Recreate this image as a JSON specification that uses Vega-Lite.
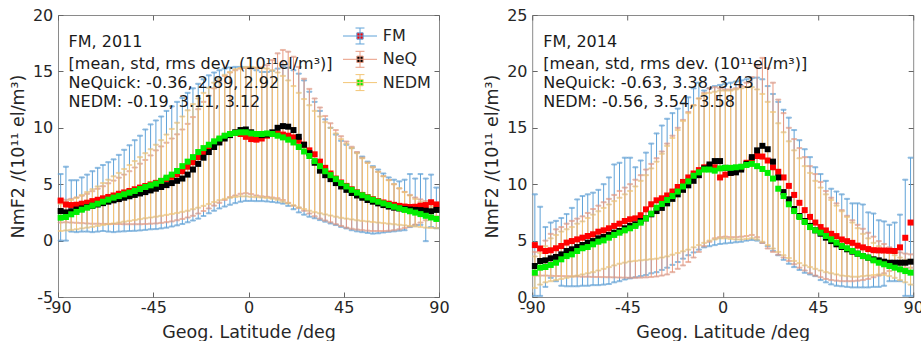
{
"$schema": "https://vega.github.io/schema/vega-lite/v6.json",
"background": "white",
"padding": {"left": 8, "top": 6, "right": 0, "bottom": 0},
"spacing": 32.2,
"config": {
  "font": "DejaVu Sans",
  "view": {"stroke": "#8a8a8a", "strokeWidth": 1},
  "axis": {"grid": false, "domain": false, "tickSize": -5, "tickColor": "#666666", "tickWidth": 1, "labelColor": "#262626", "labelFontSize": 16, "labelFont": "DejaVu Sans", "titleColor": "#262626", "titleFontSize": 17.5, "titleFontWeight": "normal", "titleFont": "DejaVu Sans", "labelFlush": false, "labelOverlap": false},
  "axisX": {"labelPadding": 7, "titlePadding": 8},
  "axisY": {"labelPadding": 10.2, "titlePadding": 5},
  "legend": {"symbolType": "M-2.43,0H2.43M0,-1.14V1.14M-0.64,-1.14H0.64M-0.64,1.14H0.64M-0.45,-0.45H0.45V0.45H-0.45Z", "symbolSize": 196, "symbolStrokeWidth": 1, "symbolOpacity": 1}
},
"resolve": {"scale": {"color": "independent", "stroke": "independent"}},
"datasets": {
"p1": [
{"lat":-88.75,"fm":3.55,"fmLo":0,"fmHi":5.9,"nq":2.62,"nqLo":1.6,"nqHi":3.65,"nd":2.03,"ndLo":0.85,"ndHi":3.25},
{"lat":-86.25,"fm":3.2,"fmLo":0,"fmHi":6.55,"nq":2.5,"nqLo":1.62,"nqHi":3.62,"nd":2.09,"ndLo":0.9,"ndHi":3.4},
{"lat":-83.75,"fm":3.15,"fmLo":0.8,"fmHi":5.35,"nq":2.6,"nqLo":1.6,"nqHi":3.7,"nd":2.33,"ndLo":0.95,"ndHi":3.6},
{"lat":-81.25,"fm":3.18,"fmLo":0.75,"fmHi":5.35,"nq":2.75,"nqLo":1.58,"nqHi":3.82,"nd":2.54,"ndLo":1.0,"ndHi":3.8},
{"lat":-78.75,"fm":3.27,"fmLo":0.8,"fmHi":5.6,"nq":2.85,"nqLo":1.55,"nqHi":3.98,"nd":2.74,"ndLo":1.08,"ndHi":4.05},
{"lat":-76.25,"fm":3.36,"fmLo":0.8,"fmHi":5.85,"nq":2.97,"nqLo":1.52,"nqHi":4.15,"nd":2.92,"ndLo":1.15,"ndHi":4.3},
{"lat":-73.75,"fm":3.5,"fmLo":0.75,"fmHi":6.15,"nq":3.08,"nqLo":1.5,"nqHi":4.38,"nd":3.1,"ndLo":1.22,"ndHi":4.55},
{"lat":-71.25,"fm":3.62,"fmLo":0.8,"fmHi":6.45,"nq":3.2,"nqLo":1.5,"nqHi":4.6,"nd":3.27,"ndLo":1.3,"ndHi":4.8},
{"lat":-68.75,"fm":3.75,"fmLo":0.85,"fmHi":6.7,"nq":3.32,"nqLo":1.48,"nqHi":4.82,"nd":3.45,"ndLo":1.38,"ndHi":5.1},
{"lat":-66.25,"fm":3.87,"fmLo":0.8,"fmHi":6.95,"nq":3.45,"nqLo":1.48,"nqHi":5.08,"nd":3.63,"ndLo":1.45,"ndHi":5.4},
{"lat":-63.75,"fm":4.0,"fmLo":0.75,"fmHi":7.2,"nq":3.57,"nqLo":1.47,"nqHi":5.32,"nd":3.81,"ndLo":1.52,"ndHi":5.7},
{"lat":-61.25,"fm":4.15,"fmLo":0.8,"fmHi":7.6,"nq":3.68,"nqLo":1.47,"nqHi":5.58,"nd":3.95,"ndLo":1.6,"ndHi":6.0},
{"lat":-58.75,"fm":4.27,"fmLo":0.82,"fmHi":8.05,"nq":3.8,"nqLo":1.45,"nqHi":5.85,"nd":4.1,"ndLo":1.68,"ndHi":6.35},
{"lat":-56.25,"fm":4.4,"fmLo":0.85,"fmHi":8.45,"nq":3.93,"nqLo":1.45,"nqHi":6.15,"nd":4.25,"ndLo":1.75,"ndHi":6.7},
{"lat":-53.75,"fm":4.55,"fmLo":0.87,"fmHi":8.9,"nq":4.05,"nqLo":1.45,"nqHi":6.48,"nd":4.4,"ndLo":1.82,"ndHi":7.05},
{"lat":-51.25,"fm":4.7,"fmLo":0.9,"fmHi":9.3,"nq":4.18,"nqLo":1.45,"nqHi":6.82,"nd":4.57,"ndLo":1.9,"ndHi":7.4},
{"lat":-48.75,"fm":4.84,"fmLo":0.95,"fmHi":9.85,"nq":4.3,"nqLo":1.47,"nqHi":7.15,"nd":4.75,"ndLo":1.98,"ndHi":7.75},
{"lat":-46.25,"fm":4.98,"fmLo":1.0,"fmHi":10.3,"nq":4.45,"nqLo":1.5,"nqHi":7.55,"nd":4.9,"ndLo":2.05,"ndHi":8.1},
{"lat":-43.75,"fm":5.12,"fmLo":1.02,"fmHi":10.65,"nq":4.6,"nqLo":1.52,"nqHi":8.0,"nd":5.05,"ndLo":2.12,"ndHi":8.5},
{"lat":-41.25,"fm":5.28,"fmLo":1.08,"fmHi":11.0,"nq":4.75,"nqLo":1.57,"nqHi":8.35,"nd":5.3,"ndLo":2.2,"ndHi":8.9},
{"lat":-38.75,"fm":5.45,"fmLo":1.15,"fmHi":11.5,"nq":4.92,"nqLo":1.63,"nqHi":8.68,"nd":5.58,"ndLo":2.28,"ndHi":9.4},
{"lat":-36.25,"fm":5.65,"fmLo":1.25,"fmHi":11.9,"nq":5.1,"nqLo":1.7,"nqHi":9.05,"nd":5.85,"ndLo":2.36,"ndHi":9.9},
{"lat":-33.75,"fm":5.88,"fmLo":1.35,"fmHi":12.3,"nq":5.3,"nqLo":1.8,"nqHi":9.42,"nd":6.17,"ndLo":2.45,"ndHi":10.45},
{"lat":-31.25,"fm":6.15,"fmLo":1.47,"fmHi":12.65,"nq":5.5,"nqLo":1.92,"nqHi":9.85,"nd":6.6,"ndLo":2.55,"ndHi":11.0},
{"lat":-28.75,"fm":6.55,"fmLo":1.62,"fmHi":13.1,"nq":5.85,"nqLo":2.05,"nqHi":10.35,"nd":7.0,"ndLo":2.65,"ndHi":11.55},
{"lat":-26.25,"fm":6.95,"fmLo":1.78,"fmHi":13.5,"nq":6.3,"nqLo":2.2,"nqHi":10.95,"nd":7.4,"ndLo":2.78,"ndHi":12.1},
{"lat":-23.75,"fm":7.4,"fmLo":1.95,"fmHi":13.9,"nq":6.8,"nqLo":2.4,"nqHi":11.65,"nd":7.85,"ndLo":2.92,"ndHi":12.6},
{"lat":-21.25,"fm":7.85,"fmLo":2.18,"fmHi":14.3,"nq":7.35,"nqLo":2.62,"nqHi":12.3,"nd":8.2,"ndLo":3.08,"ndHi":13.1},
{"lat":-18.75,"fm":8.25,"fmLo":2.42,"fmHi":14.65,"nq":7.85,"nqLo":2.85,"nqHi":12.85,"nd":8.5,"ndLo":3.25,"ndHi":13.55},
{"lat":-16.25,"fm":8.6,"fmLo":2.65,"fmHi":14.9,"nq":8.3,"nqLo":3.1,"nqHi":13.5,"nd":8.8,"ndLo":3.42,"ndHi":14.0},
{"lat":-13.75,"fm":8.95,"fmLo":2.85,"fmHi":15.1,"nq":8.7,"nqLo":3.35,"nqHi":14.15,"nd":9.05,"ndLo":3.58,"ndHi":14.35},
{"lat":-11.25,"fm":9.25,"fmLo":3.02,"fmHi":15.25,"nq":9.05,"nqLo":3.6,"nqHi":14.6,"nd":9.3,"ndLo":3.7,"ndHi":14.7},
{"lat":-8.75,"fm":9.45,"fmLo":3.18,"fmHi":15.35,"nq":9.35,"nqLo":3.85,"nqHi":14.9,"nd":9.45,"ndLo":3.8,"ndHi":14.95},
{"lat":-6.25,"fm":9.55,"fmLo":3.32,"fmHi":15.4,"nq":9.6,"nqLo":4.0,"nqHi":15.1,"nd":9.55,"ndLo":3.87,"ndHi":15.2},
{"lat":-3.75,"fm":9.45,"fmLo":3.45,"fmHi":15.4,"nq":9.8,"nqLo":4.15,"nqHi":15.25,"nd":9.6,"ndLo":3.92,"ndHi":15.3},
{"lat":-1.25,"fm":9.2,"fmLo":3.52,"fmHi":15.35,"nq":9.85,"nqLo":4.2,"nqHi":15.3,"nd":9.6,"ndLo":3.92,"ndHi":15.4},
{"lat":1.25,"fm":9.0,"fmLo":3.52,"fmHi":15.25,"nq":9.6,"nqLo":4.12,"nqHi":15.3,"nd":9.5,"ndLo":3.88,"ndHi":15.4},
{"lat":3.75,"fm":8.95,"fmLo":3.5,"fmHi":15.1,"nq":9.45,"nqLo":4.0,"nqHi":15.3,"nd":9.45,"ndLo":3.85,"ndHi":15.35},
{"lat":6.25,"fm":9.05,"fmLo":3.5,"fmHi":14.95,"nq":9.35,"nqLo":3.92,"nqHi":15.35,"nd":9.45,"ndLo":3.82,"ndHi":15.3},
{"lat":8.75,"fm":9.3,"fmLo":3.47,"fmHi":14.95,"nq":9.4,"nqLo":3.88,"nqHi":15.55,"nd":9.5,"ndLo":3.78,"ndHi":15.25},
{"lat":11.25,"fm":9.45,"fmLo":3.42,"fmHi":15.05,"nq":9.6,"nqLo":3.82,"nqHi":16.0,"nd":9.45,"ndLo":3.72,"ndHi":15.1},
{"lat":13.75,"fm":9.5,"fmLo":3.37,"fmHi":15.25,"nq":10.0,"nqLo":3.75,"nqHi":16.6,"nd":9.3,"ndLo":3.62,"ndHi":14.9},
{"lat":16.25,"fm":9.4,"fmLo":3.28,"fmHi":15.45,"nq":10.15,"nqLo":3.6,"nqHi":16.9,"nd":9.15,"ndLo":3.45,"ndHi":14.6},
{"lat":18.75,"fm":9.3,"fmLo":3.08,"fmHi":15.35,"nq":10.1,"nqLo":3.35,"nqHi":16.75,"nd":8.95,"ndLo":3.3,"ndHi":14.2},
{"lat":21.25,"fm":9.15,"fmLo":2.78,"fmHi":15.1,"nq":9.8,"nqLo":3.1,"nqHi":16.3,"nd":8.7,"ndLo":3.12,"ndHi":13.7},
{"lat":23.75,"fm":8.85,"fmLo":2.5,"fmHi":14.8,"nq":9.2,"nqLo":2.9,"nqHi":15.4,"nd":8.3,"ndLo":2.95,"ndHi":13.1},
{"lat":26.25,"fm":8.5,"fmLo":2.3,"fmHi":14.2,"nq":8.5,"nqLo":2.65,"nqHi":14.35,"nd":7.9,"ndLo":2.8,"ndHi":12.55},
{"lat":28.75,"fm":8.0,"fmLo":2.12,"fmHi":13.2,"nq":7.75,"nqLo":2.4,"nqHi":13.45,"nd":7.5,"ndLo":2.65,"ndHi":12.0},
{"lat":31.25,"fm":7.65,"fmLo":1.98,"fmHi":12.3,"nq":6.9,"nqLo":2.15,"nqHi":12.6,"nd":7.05,"ndLo":2.52,"ndHi":11.5},
{"lat":33.75,"fm":7.0,"fmLo":1.82,"fmHi":11.5,"nq":6.2,"nqLo":1.95,"nqHi":11.8,"nd":6.6,"ndLo":2.42,"ndHi":11.0},
{"lat":36.25,"fm":6.45,"fmLo":1.68,"fmHi":10.75,"nq":5.8,"nqLo":1.78,"nqHi":11.05,"nd":6.15,"ndLo":2.32,"ndHi":10.5},
{"lat":38.75,"fm":5.95,"fmLo":1.52,"fmHi":10.0,"nq":5.45,"nqLo":1.62,"nqHi":10.4,"nd":5.8,"ndLo":2.22,"ndHi":10.0},
{"lat":41.25,"fm":5.5,"fmLo":1.38,"fmHi":9.4,"nq":5.1,"nqLo":1.45,"nqHi":9.8,"nd":5.45,"ndLo":2.12,"ndHi":9.5},
{"lat":43.75,"fm":5.15,"fmLo":1.22,"fmHi":8.85,"nq":4.8,"nqLo":1.3,"nqHi":9.25,"nd":5.1,"ndLo":2.02,"ndHi":9.0},
{"lat":46.25,"fm":4.85,"fmLo":1.08,"fmHi":8.5,"nq":4.5,"nqLo":1.15,"nqHi":8.78,"nd":4.8,"ndLo":1.95,"ndHi":8.6},
{"lat":48.75,"fm":4.55,"fmLo":0.92,"fmHi":8.2,"nq":4.22,"nqLo":1.05,"nqHi":8.32,"nd":4.5,"ndLo":1.88,"ndHi":8.2},
{"lat":51.25,"fm":4.28,"fmLo":0.82,"fmHi":7.8,"nq":4.0,"nqLo":0.98,"nqHi":7.85,"nd":4.25,"ndLo":1.8,"ndHi":7.75},
{"lat":53.75,"fm":4.05,"fmLo":0.75,"fmHi":7.45,"nq":3.8,"nqLo":0.92,"nqHi":7.35,"nd":4.02,"ndLo":1.75,"ndHi":7.3},
{"lat":56.25,"fm":3.85,"fmLo":0.68,"fmHi":7.0,"nq":3.6,"nqLo":0.88,"nqHi":6.9,"nd":3.82,"ndLo":1.7,"ndHi":6.9},
{"lat":58.75,"fm":3.67,"fmLo":0.62,"fmHi":6.6,"nq":3.45,"nqLo":0.85,"nqHi":6.5,"nd":3.62,"ndLo":1.65,"ndHi":6.5},
{"lat":61.25,"fm":3.5,"fmLo":0.65,"fmHi":6.3,"nq":3.3,"nqLo":0.85,"nqHi":6.1,"nd":3.45,"ndLo":1.6,"ndHi":6.1},
{"lat":63.75,"fm":3.38,"fmLo":0.72,"fmHi":5.95,"nq":3.15,"nqLo":0.85,"nqHi":5.72,"nd":3.3,"ndLo":1.55,"ndHi":5.7},
{"lat":66.25,"fm":3.27,"fmLo":0.78,"fmHi":5.6,"nq":3.02,"nqLo":0.87,"nqHi":5.38,"nd":3.15,"ndLo":1.5,"ndHi":5.35},
{"lat":68.75,"fm":3.17,"fmLo":0.82,"fmHi":5.4,"nq":2.92,"nqLo":0.92,"nqHi":5.0,"nd":3.0,"ndLo":1.45,"ndHi":5.0},
{"lat":71.25,"fm":3.08,"fmLo":0.88,"fmHi":5.25,"nq":2.85,"nqLo":1.0,"nqHi":4.62,"nd":2.87,"ndLo":1.4,"ndHi":4.65},
{"lat":73.75,"fm":3.02,"fmLo":0.92,"fmHi":5.4,"nq":2.8,"nqLo":1.12,"nqHi":4.32,"nd":2.72,"ndLo":1.35,"ndHi":4.3},
{"lat":76.25,"fm":2.98,"fmLo":1.2,"fmHi":5.9,"nq":2.75,"nqLo":1.25,"nqHi":4.05,"nd":2.6,"ndLo":1.3,"ndHi":4.0},
{"lat":78.75,"fm":3.0,"fmLo":1.35,"fmHi":5.5,"nq":2.72,"nqLo":1.42,"nqHi":3.82,"nd":2.48,"ndLo":1.25,"ndHi":3.7},
{"lat":81.25,"fm":3.1,"fmLo":1.4,"fmHi":5.9,"nq":2.7,"nqLo":1.6,"nqHi":3.65,"nd":2.35,"ndLo":1.2,"ndHi":3.45},
{"lat":83.75,"fm":3.15,"fmLo":-0.05,"fmHi":5.5,"nq":2.65,"nqLo":1.8,"nqHi":3.5,"nd":2.2,"ndLo":1.15,"ndHi":3.2},
{"lat":86.25,"fm":3.4,"fmLo":1.2,"fmHi":5.85,"nq":2.6,"nqLo":2.0,"nqHi":3.42,"nd":2.05,"ndLo":1.12,"ndHi":3.0},
{"lat":88.75,"fm":3.2,"fmLo":1.1,"fmHi":4.7,"nq":2.72,"nqLo":2.15,"nqHi":3.38,"nd":1.92,"ndLo":1.1,"ndHi":2.8}
],
"p2": [
{"lat":-88.75,"fm":4.6,"fmLo":0.1,"fmHi":9.1,"nq":2.75,"nqLo":1.9,"nqHi":4.0,"nd":2.16,"ndLo":0.8,"ndHi":3.6},
{"lat":-86.25,"fm":4.3,"fmLo":0.1,"fmHi":8.0,"nq":3.19,"nqLo":1.9,"nqHi":4.4,"nd":2.6,"ndLo":1.1,"ndHi":3.9},
{"lat":-83.75,"fm":4.08,"fmLo":0.9,"fmHi":6.2,"nq":3.25,"nqLo":1.9,"nqHi":5.0,"nd":2.66,"ndLo":1.3,"ndHi":4.5},
{"lat":-81.25,"fm":4.14,"fmLo":1.7,"fmHi":6.6,"nq":3.43,"nqLo":1.88,"nqHi":5.6,"nd":2.84,"ndLo":1.4,"ndHi":5.2},
{"lat":-78.75,"fm":4.32,"fmLo":1.4,"fmHi":6.75,"nq":3.55,"nqLo":1.86,"nqHi":6.0,"nd":3.04,"ndLo":1.5,"ndHi":5.5},
{"lat":-76.25,"fm":4.52,"fmLo":1.0,"fmHi":7.0,"nq":3.78,"nqLo":1.85,"nqHi":6.2,"nd":3.34,"ndLo":1.6,"ndHi":5.8},
{"lat":-73.75,"fm":4.82,"fmLo":0.95,"fmHi":7.35,"nq":4.08,"nqLo":1.84,"nqHi":6.5,"nd":3.63,"ndLo":1.7,"ndHi":6.0},
{"lat":-71.25,"fm":4.96,"fmLo":0.95,"fmHi":7.9,"nq":4.23,"nqLo":1.83,"nqHi":6.75,"nd":3.78,"ndLo":1.8,"ndHi":6.2},
{"lat":-68.75,"fm":5.11,"fmLo":0.95,"fmHi":8.65,"nq":4.43,"nqLo":1.82,"nqHi":6.95,"nd":4.08,"ndLo":1.9,"ndHi":6.5},
{"lat":-66.25,"fm":5.26,"fmLo":1.0,"fmHi":8.95,"nq":4.61,"nqLo":1.8,"nqHi":7.15,"nd":4.32,"ndLo":2.0,"ndHi":6.7},
{"lat":-63.75,"fm":5.41,"fmLo":1.0,"fmHi":9.1,"nq":4.82,"nqLo":1.8,"nqHi":7.45,"nd":4.43,"ndLo":2.1,"ndHi":7.0},
{"lat":-61.25,"fm":5.56,"fmLo":1.05,"fmHi":9.25,"nq":4.96,"nqLo":1.78,"nqHi":7.8,"nd":4.67,"ndLo":2.2,"ndHi":7.3},
{"lat":-58.75,"fm":5.79,"fmLo":1.05,"fmHi":9.5,"nq":5.2,"nqLo":1.77,"nqHi":8.1,"nd":4.9,"ndLo":2.35,"ndHi":7.6},
{"lat":-56.25,"fm":5.91,"fmLo":1.1,"fmHi":10.0,"nq":5.32,"nqLo":1.76,"nqHi":8.4,"nd":5.02,"ndLo":2.5,"ndHi":7.9},
{"lat":-53.75,"fm":6.09,"fmLo":1.15,"fmHi":10.6,"nq":5.5,"nqLo":1.75,"nqHi":8.7,"nd":5.26,"ndLo":2.65,"ndHi":8.2},
{"lat":-51.25,"fm":6.3,"fmLo":1.3,"fmHi":11.75,"nq":5.7,"nqLo":1.74,"nqHi":9.05,"nd":5.5,"ndLo":2.8,"ndHi":8.5},
{"lat":-48.75,"fm":6.5,"fmLo":1.4,"fmHi":11.9,"nq":5.85,"nqLo":1.73,"nqHi":9.4,"nd":5.7,"ndLo":2.95,"ndHi":8.8},
{"lat":-46.25,"fm":6.74,"fmLo":1.55,"fmHi":12.35,"nq":6.09,"nqLo":1.72,"nqHi":9.7,"nd":5.91,"ndLo":3.05,"ndHi":9.1},
{"lat":-43.75,"fm":6.89,"fmLo":1.65,"fmHi":12.35,"nq":6.3,"nqLo":1.71,"nqHi":10.0,"nd":6.09,"ndLo":3.15,"ndHi":9.4},
{"lat":-41.25,"fm":6.97,"fmLo":1.75,"fmHi":11.5,"nq":6.44,"nqLo":1.71,"nqHi":10.4,"nd":6.3,"ndLo":3.2,"ndHi":9.8},
{"lat":-38.75,"fm":7.25,"fmLo":1.85,"fmHi":12.1,"nq":6.74,"nqLo":1.72,"nqHi":10.8,"nd":6.59,"ndLo":3.25,"ndHi":10.3},
{"lat":-36.25,"fm":7.77,"fmLo":1.95,"fmHi":12.8,"nq":6.97,"nqLo":1.74,"nqHi":11.3,"nd":6.97,"ndLo":3.3,"ndHi":10.8},
{"lat":-33.75,"fm":8.22,"fmLo":2.1,"fmHi":13.6,"nq":7.33,"nqLo":1.77,"nqHi":11.8,"nd":7.39,"ndLo":3.35,"ndHi":11.4},
{"lat":-31.25,"fm":8.57,"fmLo":2.2,"fmHi":14.5,"nq":7.62,"nqLo":1.82,"nqHi":12.3,"nd":7.92,"ndLo":3.4,"ndHi":12.0},
{"lat":-28.75,"fm":8.75,"fmLo":2.4,"fmHi":15.2,"nq":7.9,"nqLo":1.9,"nqHi":12.9,"nd":8.25,"ndLo":3.5,"ndHi":12.7},
{"lat":-26.25,"fm":9.0,"fmLo":2.6,"fmHi":15.8,"nq":8.3,"nqLo":2.0,"nqHi":13.6,"nd":8.6,"ndLo":3.6,"ndHi":13.4},
{"lat":-23.75,"fm":9.35,"fmLo":2.85,"fmHi":16.3,"nq":8.7,"nqLo":2.2,"nqHi":14.3,"nd":8.95,"ndLo":3.75,"ndHi":14.1},
{"lat":-21.25,"fm":9.75,"fmLo":3.1,"fmHi":16.7,"nq":9.1,"nqLo":2.5,"nqHi":15.0,"nd":9.35,"ndLo":3.9,"ndHi":14.8},
{"lat":-18.75,"fm":10.2,"fmLo":3.4,"fmHi":17.2,"nq":9.5,"nqLo":2.8,"nqHi":15.7,"nd":9.8,"ndLo":4.05,"ndHi":15.6},
{"lat":-16.25,"fm":10.6,"fmLo":3.7,"fmHi":17.7,"nq":9.9,"nqLo":3.1,"nqHi":16.4,"nd":10.25,"ndLo":4.2,"ndHi":16.3},
{"lat":-13.75,"fm":10.95,"fmLo":3.95,"fmHi":18.5,"nq":10.3,"nqLo":3.5,"nqHi":17.0,"nd":10.75,"ndLo":4.4,"ndHi":17.0},
{"lat":-11.25,"fm":11.25,"fmLo":4.2,"fmHi":19.0,"nq":10.8,"nqLo":4.0,"nqHi":17.6,"nd":11.05,"ndLo":4.6,"ndHi":17.6},
{"lat":-8.75,"fm":11.5,"fmLo":4.4,"fmHi":18.3,"nq":11.4,"nqLo":4.5,"nqHi":18.1,"nd":11.3,"ndLo":4.8,"ndHi":18.0},
{"lat":-6.25,"fm":11.6,"fmLo":4.5,"fmHi":18.5,"nq":11.75,"nqLo":4.9,"nqHi":18.5,"nd":11.3,"ndLo":5.0,"ndHi":18.1},
{"lat":-3.75,"fm":11.5,"fmLo":4.6,"fmHi":18.7,"nq":12.05,"nqLo":5.2,"nqHi":18.6,"nd":11.2,"ndLo":5.1,"ndHi":18.2},
{"lat":-1.25,"fm":10.6,"fmLo":4.7,"fmHi":18.8,"nq":12.05,"nqLo":5.3,"nqHi":18.5,"nd":11.4,"ndLo":5.2,"ndHi":18.3},
{"lat":1.25,"fm":10.85,"fmLo":4.75,"fmHi":18.9,"nq":11.45,"nqLo":5.35,"nqHi":18.4,"nd":11.45,"ndLo":5.2,"ndHi":18.3},
{"lat":3.75,"fm":11.0,"fmLo":4.8,"fmHi":19.0,"nq":11.0,"nqLo":5.3,"nqHi":18.4,"nd":11.45,"ndLo":5.15,"ndHi":18.3},
{"lat":6.25,"fm":11.15,"fmLo":4.85,"fmHi":19.1,"nq":11.05,"nqLo":5.3,"nqHi":18.5,"nd":11.5,"ndLo":5.1,"ndHi":18.4},
{"lat":8.75,"fm":11.45,"fmLo":4.9,"fmHi":19.2,"nq":11.3,"nqLo":5.35,"nqHi":18.7,"nd":11.55,"ndLo":5.1,"ndHi":18.5},
{"lat":11.25,"fm":11.9,"fmLo":5.0,"fmHi":19.3,"nq":11.8,"nqLo":5.4,"nqHi":19.0,"nd":11.7,"ndLo":5.15,"ndHi":18.6},
{"lat":13.75,"fm":12.2,"fmLo":5.05,"fmHi":19.4,"nq":12.4,"nqLo":5.5,"nqHi":19.5,"nd":11.8,"ndLo":5.2,"ndHi":18.6},
{"lat":16.25,"fm":12.5,"fmLo":5.0,"fmHi":19.45,"nq":13.0,"nqLo":5.3,"nqHi":20.5,"nd":11.6,"ndLo":5.1,"ndHi":18.4},
{"lat":18.75,"fm":12.45,"fmLo":4.8,"fmHi":19.3,"nq":13.4,"nqLo":4.8,"nqHi":21.2,"nd":11.35,"ndLo":4.9,"ndHi":18.0},
{"lat":21.25,"fm":12.1,"fmLo":4.5,"fmHi":18.7,"nq":13.1,"nqLo":4.3,"nqHi":20.3,"nd":11.0,"ndLo":4.6,"ndHi":17.3},
{"lat":23.75,"fm":11.5,"fmLo":4.1,"fmHi":18.0,"nq":12.0,"nqLo":4.0,"nqHi":19.0,"nd":10.5,"ndLo":4.3,"ndHi":16.4},
{"lat":26.25,"fm":11.1,"fmLo":3.7,"fmHi":17.3,"nq":10.6,"nqLo":3.75,"nqHi":17.5,"nd":9.6,"ndLo":4.0,"ndHi":15.4},
{"lat":28.75,"fm":10.6,"fmLo":3.3,"fmHi":16.6,"nq":9.3,"nqLo":3.5,"nqHi":16.3,"nd":8.95,"ndLo":3.7,"ndHi":14.6},
{"lat":31.25,"fm":9.85,"fmLo":2.95,"fmHi":15.9,"nq":8.66,"nqLo":3.2,"nqHi":15.0,"nd":8.22,"ndLo":3.45,"ndHi":13.8},
{"lat":33.75,"fm":9.05,"fmLo":2.65,"fmHi":14.8,"nq":7.8,"nqLo":2.9,"nqHi":14.0,"nd":7.62,"ndLo":3.2,"ndHi":13.0},
{"lat":36.25,"fm":8.35,"fmLo":2.4,"fmHi":13.9,"nq":7.18,"nqLo":2.6,"nqHi":13.2,"nd":7.09,"ndLo":3.0,"ndHi":12.3},
{"lat":38.75,"fm":7.7,"fmLo":2.15,"fmHi":13.1,"nq":6.74,"nqLo":2.35,"nqHi":12.4,"nd":6.65,"ndLo":2.8,"ndHi":11.6},
{"lat":41.25,"fm":7.1,"fmLo":2.0,"fmHi":12.4,"nq":6.3,"nqLo":2.1,"nqHi":11.6,"nd":6.2,"ndLo":2.65,"ndHi":11.0},
{"lat":43.75,"fm":6.6,"fmLo":1.85,"fmHi":11.5,"nq":5.91,"nqLo":1.9,"nqHi":10.9,"nd":5.91,"ndLo":2.5,"ndHi":10.3},
{"lat":46.25,"fm":6.2,"fmLo":1.5,"fmHi":10.9,"nq":5.61,"nqLo":1.75,"nqHi":10.2,"nd":5.7,"ndLo":2.35,"ndHi":9.7},
{"lat":48.75,"fm":5.9,"fmLo":1.3,"fmHi":10.3,"nq":5.26,"nqLo":1.6,"nqHi":9.4,"nd":5.41,"ndLo":2.2,"ndHi":9.1},
{"lat":51.25,"fm":5.6,"fmLo":1.12,"fmHi":9.6,"nq":4.96,"nqLo":1.5,"nqHi":8.8,"nd":5.11,"ndLo":2.1,"ndHi":8.6},
{"lat":53.75,"fm":5.4,"fmLo":1.0,"fmHi":9.35,"nq":4.67,"nqLo":1.45,"nqHi":8.3,"nd":4.82,"ndLo":2.0,"ndHi":8.1},
{"lat":56.25,"fm":5.1,"fmLo":0.95,"fmHi":9.1,"nq":4.43,"nqLo":1.4,"nqHi":7.7,"nd":4.52,"ndLo":1.9,"ndHi":7.6},
{"lat":58.75,"fm":4.95,"fmLo":0.9,"fmHi":8.7,"nq":4.23,"nqLo":1.4,"nqHi":7.2,"nd":4.32,"ndLo":1.85,"ndHi":7.1},
{"lat":61.25,"fm":4.8,"fmLo":0.85,"fmHi":8.3,"nq":4.02,"nqLo":1.4,"nqHi":6.8,"nd":4.08,"ndLo":1.8,"ndHi":6.6},
{"lat":63.75,"fm":4.55,"fmLo":0.85,"fmHi":8.3,"nq":3.84,"nqLo":1.45,"nqHi":6.4,"nd":3.84,"ndLo":1.8,"ndHi":6.1},
{"lat":66.25,"fm":4.4,"fmLo":0.85,"fmHi":8.2,"nq":3.63,"nqLo":1.5,"nqHi":6.05,"nd":3.63,"ndLo":1.85,"ndHi":5.6},
{"lat":68.75,"fm":4.25,"fmLo":0.85,"fmHi":7.5,"nq":3.49,"nqLo":1.6,"nqHi":5.7,"nd":3.49,"ndLo":1.9,"ndHi":5.2},
{"lat":71.25,"fm":4.15,"fmLo":0.9,"fmHi":7.4,"nq":3.34,"nqLo":1.75,"nqHi":5.35,"nd":3.25,"ndLo":1.95,"ndHi":4.8},
{"lat":73.75,"fm":4.13,"fmLo":0.9,"fmHi":6.8,"nq":3.25,"nqLo":1.9,"nqHi":4.95,"nd":3.04,"ndLo":2.0,"ndHi":4.5},
{"lat":76.25,"fm":4.12,"fmLo":1.0,"fmHi":6.7,"nq":3.13,"nqLo":2.1,"nqHi":4.7,"nd":2.9,"ndLo":1.95,"ndHi":4.2},
{"lat":78.75,"fm":4.1,"fmLo":1.4,"fmHi":6.4,"nq":3.04,"nqLo":2.3,"nqHi":4.4,"nd":2.75,"ndLo":1.85,"ndHi":3.9},
{"lat":81.25,"fm":4.08,"fmLo":1.4,"fmHi":6.6,"nq":3.04,"nqLo":2.5,"nqHi":4.1,"nd":2.6,"ndLo":1.7,"ndHi":3.7},
{"lat":83.75,"fm":4.4,"fmLo":1.4,"fmHi":7.3,"nq":3.04,"nqLo":2.6,"nqHi":3.95,"nd":2.45,"ndLo":1.5,"ndHi":3.5},
{"lat":86.25,"fm":5.25,"fmLo":0.1,"fmHi":10.4,"nq":3.04,"nqLo":2.6,"nqHi":3.85,"nd":2.3,"ndLo":1.3,"ndHi":3.3},
{"lat":88.75,"fm":6.6,"fmLo":0.1,"fmHi":12.35,"nq":3.13,"nqLo":2.6,"nqHi":3.78,"nd":2.16,"ndLo":1.1,"ndHi":3.2}
]
},
"hconcat": [
{
  "width": 381, "height": 282,
  "data": {"name": "p1"},
  "resolve": {"axis": {"x": "independent", "y": "independent"}},
  "layer": [
    {"mark": {"type": "errorbar", "ticks": true, "size": 5, "thickness": 1},
     "encoding": {"x": {"field": "lat", "type": "quantitative", "scale": {"domain": [-90, 90], "nice": false, "zero": false}, "axis": null},
                  "y": {"field": "fmLo", "type": "quantitative", "scale": {"domain": [-5, 20], "nice": false, "zero": false}, "axis": null},
                  "y2": {"field": "fmHi"},
                  "stroke": {"datum": "FM", "scale": {"domain": ["FM", "NeQ", "NEDM"], "range": ["#5fa2d8", "#e99a80", "#f3c677"]},
                             "legend": {"orient": "none", "legendX": 294, "legendY": 13, "title": null, "padding": 0, "symbolSize": 196, "symbolOpacity": 1,
                                        "symbolType": "M-2.43,0H2.43M0,-1.14V1.14M-0.64,-1.14H0.64M-0.64,1.14H0.64M-0.45,-0.45H0.45V0.45H-0.45Z",
                                        "labelFontSize": 16, "labelOffset": 14.7, "rowPadding": 3.3, "labelColor": "#262626", "labelFont": "DejaVu Sans"}}}},
    {"mark": {"type": "errorbar", "ticks": true, "size": 5, "thickness": 1},
     "encoding": {"x": {"field": "lat", "type": "quantitative", "scale": {"domain": [-90, 90], "nice": false, "zero": false}, "axis": null},
                  "y": {"field": "nqLo", "type": "quantitative", "scale": {"domain": [-5, 20], "nice": false, "zero": false}, "axis": null},
                  "y2": {"field": "nqHi"},
                  "stroke": {"datum": "NeQ"}}},
    {"mark": {"type": "errorbar", "ticks": true, "size": 5, "thickness": 1},
     "encoding": {"x": {"field": "lat", "type": "quantitative", "scale": {"domain": [-90, 90], "nice": false, "zero": false}, "axis": null},
                  "y": {"field": "ndLo", "type": "quantitative", "scale": {"domain": [-5, 20], "nice": false, "zero": false}, "axis": null},
                  "y2": {"field": "ndHi"},
                  "stroke": {"datum": "NEDM"}}},
    {"mark": {"type": "point", "shape": "square", "filled": true, "size": 36, "opacity": 1},
     "encoding": {"x": {"field": "lat", "type": "quantitative", "scale": {"domain": [-90, 90], "nice": false, "zero": false}, "axis": {"orient": "bottom", "values": [-90, -45, 0, 45, 90], "title": "Geog. Latitude /deg", "labelExpr": "'' + datum.value"}},
                  "y": {"field": "fm", "type": "quantitative", "scale": {"domain": [-5, 20], "nice": false, "zero": false}, "axis": {"orient": "left", "values": [-5, 0, 5, 10, 15, 20], "title": "NmF2 /(10¹¹ el/m³)", "labelExpr": "'' + datum.value"}},
                  "color": {"datum": "FM", "scale": {"domain": ["FM", "NeQ", "NEDM"], "range": ["#ff0000", "#000000", "#00ee00"]},
                            "legend": {"orient": "none", "legendX": 294, "legendY": 13, "title": null, "padding": 0, "symbolSize": 196, "symbolOpacity": 1,
                                       "symbolType": "M-2.43,0H2.43M0,-1.14V1.14M-0.64,-1.14H0.64M-0.64,1.14H0.64M-0.45,-0.45H0.45V0.45H-0.45Z",
                                       "labelFontSize": 16, "labelOffset": 14.7, "rowPadding": 3.3, "labelColor": "#262626", "labelFont": "DejaVu Sans"}}}},
    {"mark": {"type": "point", "shape": "square", "filled": true, "size": 36, "opacity": 1},
     "encoding": {"x": {"field": "lat", "type": "quantitative", "scale": {"domain": [-90, 90], "nice": false, "zero": false}, "axis": {"orient": "top", "values": [-90, -45, 0, 45, 90], "labels": false, "title": null}},
                  "y": {"field": "nq", "type": "quantitative", "scale": {"domain": [-5, 20], "nice": false, "zero": false}, "axis": {"orient": "right", "values": [-5, 0, 5, 10, 15, 20], "labels": false, "title": null}},
                  "color": {"datum": "NeQ"}}},
    {"mark": {"type": "point", "shape": "square", "filled": true, "size": 36, "opacity": 1},
     "encoding": {"x": {"field": "lat", "type": "quantitative", "scale": {"domain": [-90, 90], "nice": false, "zero": false}, "axis": null},
                  "y": {"field": "nd", "type": "quantitative", "scale": {"domain": [-5, 20], "nice": false, "zero": false}, "axis": null},
                  "color": {"datum": "NEDM"}}},
    {"data": {"values": [{}]},
     "mark": {"type": "text", "align": "left", "baseline": "alphabetic", "fontSize": 16, "color": "#1a1a1a", "font": "DejaVu Sans"},
     "encoding": {"x": {"datum": -85, "type": "quantitative", "axis": null},
                  "y": {"datum": 17.19, "type": "quantitative", "axis": null},
                  "text": {"value": "FM, 2011"}}},
    {"data": {"values": [{}]},
     "mark": {"type": "text", "align": "left", "baseline": "alphabetic", "fontSize": 16, "lineHeight": 19, "color": "#1a1a1a", "font": "DejaVu Sans"},
     "encoding": {"x": {"datum": -85, "type": "quantitative", "axis": null},
                  "y": {"datum": 15.19, "type": "quantitative", "axis": null},
                  "text": {"value": ["[mean, std, rms dev. (10¹¹el/m³)]", "NeQuick: -0.36, 2.89, 2.92", "NEDM: -0.19, 3.11, 3.12"]}}}
  ]
},
{
  "width": 381, "height": 282,
  "data": {"name": "p2"},
  "resolve": {"axis": {"x": "independent", "y": "independent"}},
  "layer": [
    {"mark": {"type": "errorbar", "ticks": true, "size": 5, "thickness": 1},
     "encoding": {"x": {"field": "lat", "type": "quantitative", "scale": {"domain": [-90, 90], "nice": false, "zero": false}, "axis": null},
                  "y": {"field": "fmLo", "type": "quantitative", "scale": {"domain": [0, 25], "nice": false, "zero": false}, "axis": null},
                  "y2": {"field": "fmHi"},
                  "stroke": {"datum": "FM", "scale": {"domain": ["FM", "NeQ", "NEDM"], "range": ["#5fa2d8", "#e99a80", "#f3c677"]}, "legend": null}}},
    {"mark": {"type": "errorbar", "ticks": true, "size": 5, "thickness": 1},
     "encoding": {"x": {"field": "lat", "type": "quantitative", "scale": {"domain": [-90, 90], "nice": false, "zero": false}, "axis": null},
                  "y": {"field": "nqLo", "type": "quantitative", "scale": {"domain": [0, 25], "nice": false, "zero": false}, "axis": null},
                  "y2": {"field": "nqHi"},
                  "stroke": {"datum": "NeQ", "legend": null}}},
    {"mark": {"type": "errorbar", "ticks": true, "size": 5, "thickness": 1},
     "encoding": {"x": {"field": "lat", "type": "quantitative", "scale": {"domain": [-90, 90], "nice": false, "zero": false}, "axis": null},
                  "y": {"field": "ndLo", "type": "quantitative", "scale": {"domain": [0, 25], "nice": false, "zero": false}, "axis": null},
                  "y2": {"field": "ndHi"},
                  "stroke": {"datum": "NEDM", "legend": null}}},
    {"mark": {"type": "point", "shape": "square", "filled": true, "size": 36, "opacity": 1},
     "encoding": {"x": {"field": "lat", "type": "quantitative", "scale": {"domain": [-90, 90], "nice": false, "zero": false}, "axis": {"orient": "bottom", "values": [-90, -45, 0, 45, 90], "title": "Geog. Latitude /deg", "labelExpr": "'' + datum.value"}},
                  "y": {"field": "fm", "type": "quantitative", "scale": {"domain": [0, 25], "nice": false, "zero": false}, "axis": {"orient": "left", "values": [0, 5, 10, 15, 20, 25], "title": "NmF2 /(10¹¹ el/m³)", "labelExpr": "'' + datum.value"}},
                  "color": {"datum": "FM", "scale": {"domain": ["FM", "NeQ", "NEDM"], "range": ["#ff0000", "#000000", "#00ee00"]}, "legend": null}}},
    {"mark": {"type": "point", "shape": "square", "filled": true, "size": 36, "opacity": 1},
     "encoding": {"x": {"field": "lat", "type": "quantitative", "scale": {"domain": [-90, 90], "nice": false, "zero": false}, "axis": {"orient": "top", "values": [-90, -45, 0, 45, 90], "labels": false, "title": null}},
                  "y": {"field": "nq", "type": "quantitative", "scale": {"domain": [0, 25], "nice": false, "zero": false}, "axis": {"orient": "right", "values": [0, 5, 10, 15, 20, 25], "labels": false, "title": null}},
                  "color": {"datum": "NeQ", "legend": null}}},
    {"mark": {"type": "point", "shape": "square", "filled": true, "size": 36, "opacity": 1},
     "encoding": {"x": {"field": "lat", "type": "quantitative", "scale": {"domain": [-90, 90], "nice": false, "zero": false}, "axis": null},
                  "y": {"field": "nd", "type": "quantitative", "scale": {"domain": [0, 25], "nice": false, "zero": false}, "axis": null},
                  "color": {"datum": "NEDM", "legend": null}}},
    {"data": {"values": [{}]},
     "mark": {"type": "text", "align": "left", "baseline": "alphabetic", "fontSize": 16, "color": "#1a1a1a", "font": "DejaVu Sans"},
     "encoding": {"x": {"datum": -84.8, "type": "quantitative", "axis": null},
                  "y": {"datum": 22.19, "type": "quantitative", "axis": null},
                  "text": {"value": "FM, 2014"}}},
    {"data": {"values": [{}]},
     "mark": {"type": "text", "align": "left", "baseline": "alphabetic", "fontSize": 16, "lineHeight": 19, "color": "#1a1a1a", "font": "DejaVu Sans"},
     "encoding": {"x": {"datum": -84.8, "type": "quantitative", "axis": null},
                  "y": {"datum": 20.19, "type": "quantitative", "axis": null},
                  "text": {"value": ["[mean, std, rms dev. (10¹¹el/m³)]", "NeQuick: -0.63, 3.38, 3.43", "NEDM: -0.56, 3.54, 3.58"]}}}
  ]
}
]
}
